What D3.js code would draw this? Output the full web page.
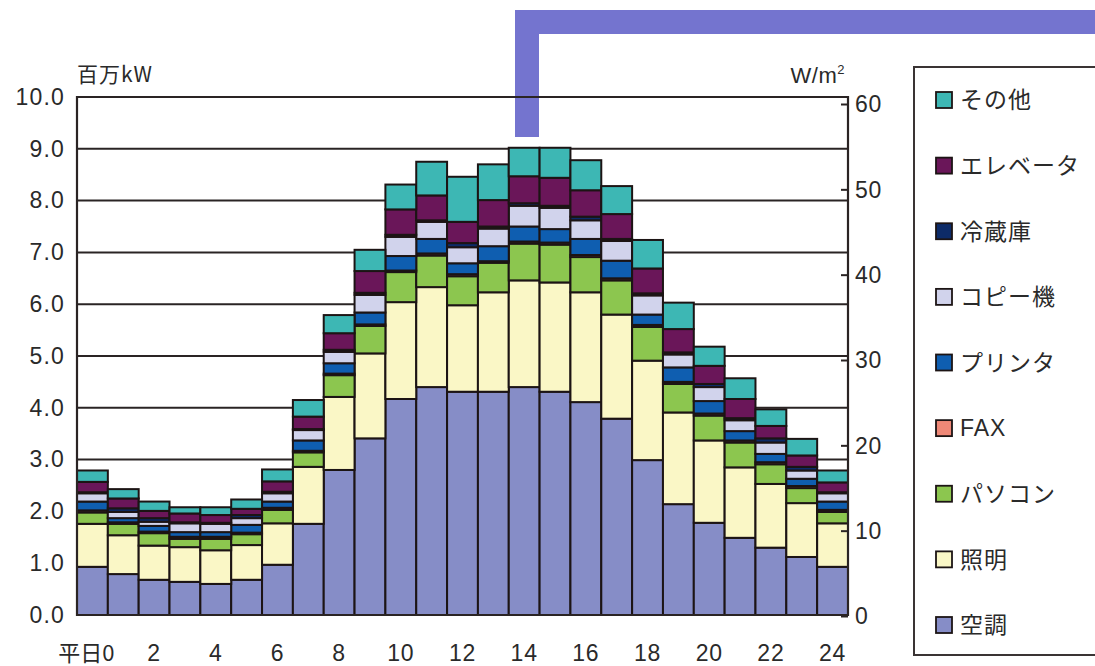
<!DOCTYPE html>
<html>
<head>
<meta charset="utf-8">
<script src="https://cdn.jsdelivr.net/npm/d3@7"></script>
<style>
  html, body { margin: 0; padding: 0; background: #ffffff; }
  svg { display: block; }
  text { fill: #2a2a2a; }
</style>
</head>
<body>
<svg id="chart" width="1095" height="666"></svg>
<script>
// Hours of a weekday (平日), 0:00 to 24:00
const hours = d3.range(0, 25);
const xTickHours = [0, 2, 4, 6, 8, 10, 12, 14, 16, 18, 20, 22, 24];
const leftTicks = d3.range(0, 11);          // 百万kW
const rightTicks = [0, 10, 20, 30, 40, 50, 60]; // W/m²

// Demand per end use, 百万kW, one value per hour
const aircon    = [0.93,0.79,0.68,0.64,0.60,0.68,0.97,1.76,2.80,3.41,4.17,4.40,4.31,4.31,4.40,4.31,4.11,3.79,2.99,2.14,1.78,1.49,1.30,1.12,0.93];
const lighting  = [0.83,0.75,0.66,0.67,0.65,0.67,0.80,1.10,1.41,1.64,1.87,1.93,1.67,1.92,2.06,2.11,2.12,2.01,1.92,1.77,1.59,1.36,1.23,1.04,0.84];
const pc        = [0.22,0.22,0.24,0.16,0.22,0.21,0.26,0.28,0.42,0.53,0.58,0.61,0.56,0.57,0.71,0.73,0.68,0.66,0.65,0.55,0.48,0.48,0.38,0.29,0.22];
const fax       = [0.04,0.03,0.03,0.04,0.04,0.03,0.04,0.03,0.03,0.03,0.03,0.04,0.04,0.03,0.04,0.04,0.04,0.04,0.04,0.04,0.04,0.04,0.04,0.04,0.04];
const printer   = [0.17,0.08,0.11,0.09,0.09,0.15,0.12,0.20,0.20,0.23,0.28,0.28,0.21,0.29,0.29,0.26,0.31,0.34,0.20,0.28,0.24,0.18,0.16,0.14,0.16];
const copier    = [0.16,0.12,0.08,0.17,0.16,0.13,0.16,0.20,0.22,0.34,0.37,0.33,0.31,0.34,0.40,0.41,0.36,0.38,0.37,0.25,0.27,0.21,0.22,0.16,0.16];
const fridge    = [0.02,0.07,0.07,0.02,0.02,0.06,0.03,0.02,0.04,0.04,0.04,0.03,0.08,0.04,0.05,0.04,0.07,0.04,0.04,0.04,0.06,0.04,0.08,0.07,0.02];
const elevator  = [0.20,0.19,0.14,0.17,0.15,0.12,0.20,0.24,0.32,0.42,0.49,0.48,0.41,0.51,0.52,0.54,0.51,0.48,0.48,0.45,0.35,0.37,0.24,0.22,0.19];
const other     = [0.22,0.18,0.18,0.12,0.15,0.18,0.23,0.32,0.35,0.41,0.48,0.65,0.87,0.69,0.55,0.58,0.58,0.54,0.55,0.51,0.37,0.40,0.32,0.32,0.23];

// Series, bottom of the stack first
const series = [
  { key: "空調",       values: aircon,   color: "#868dc7" },
  { key: "照明",       values: lighting, color: "#faf7c6" },
  { key: "パソコン",   values: pc,       color: "#8cc64f" },
  { key: "FAX",        values: fax,      color: "#ef8877" },
  { key: "プリンタ",   values: printer,  color: "#0f5eb0" },
  { key: "コピー機",   values: copier,   color: "#d1d3ec" },
  { key: "冷蔵庫",     values: fridge,   color: "#0d2b68" },
  { key: "エレベータ", values: elevator, color: "#6a1659" },
  { key: "その他",     values: other,    color: "#3db7b4" }
];

const rows = hours.map((h, i) => {
  const r = { hour: h };
  series.forEach(s => { r[s.key] = s.values[i]; });
  return r;
});

const svg = d3.select("#chart");
const plot = { left: 77, right: 848, top: 97, bottom: 615 };
const numFont = "'Liberation Sans', 'Noto Sans CJK JP', sans-serif";
const jpFont = "'Noto Sans CJK JP', sans-serif";

const x = d3.scaleBand().domain(hours).range([plot.left, plot.right]).paddingInner(0).paddingOuter(0);
const y = d3.scaleLinear().domain([0, 10]).range([plot.bottom, plot.top]);
const yRight = d3.scaleLinear().domain([0, 60]).range([plot.bottom + 1, plot.top + 7]);

// Decorative bracket line across the top
svg.append("path")
  .attr("d", `M527,137 V22 H1095`)
  .attr("fill", "none")
  .attr("stroke", "#7474cf")
  .attr("stroke-width", 24)
  .attr("stroke-linejoin", "miter");

// Horizontal grid
svg.append("g")
  .selectAll("line")
  .data(leftTicks)
  .join("line")
  .attr("x1", plot.left).attr("x2", plot.right)
  .attr("y1", d => y(d)).attr("y2", d => y(d))
  .attr("stroke", "#2a2424").attr("stroke-width", 2);

// Stacked bars
const stacked = d3.stack().keys(series.map(s => s.key))(rows);
const colorOf = new Map(series.map(s => [s.key, s.color]));

svg.append("g")
  .selectAll("g")
  .data(stacked)
  .join("g")
  .attr("fill", d => colorOf.get(d.key))
  .selectAll("rect")
  .data(d => d)
  .join("rect")
  .attr("x", d => x(d.data.hour))
  .attr("width", x.bandwidth())
  .attr("y", d => y(d[1]))
  .attr("height", d => y(d[0]) - y(d[1]))
  .attr("stroke", "#1c1414")
  .attr("stroke-width", 2);

// Frame: left, right and bottom axis lines
const frame = svg.append("g").attr("stroke", "#2a2424").attr("stroke-width", 2.2).attr("fill", "none");
frame.append("line").attr("x1", plot.left).attr("x2", plot.left).attr("y1", plot.top - 1).attr("y2", plot.bottom + 1);
frame.append("line").attr("x1", plot.right).attr("x2", plot.right).attr("y1", plot.top - 1).attr("y2", plot.bottom + 1);
frame.append("line").attr("x1", plot.left).attr("x2", plot.right).attr("y1", plot.bottom).attr("y2", plot.bottom);

// Left axis (百万kW)
const leftAxis = svg.append("g")
  .attr("transform", `translate(${plot.left},0)`)
  .call(d3.axisLeft(y).tickValues(leftTicks).tickFormat(d3.format(".1f")).tickSize(0).tickPadding(12));
leftAxis.select(".domain").remove();
leftAxis.selectAll("text")
  .attr("font-family", numFont).attr("font-size", 23).attr("fill", "#2a2a2a")
  .style("letter-spacing", "1.2px");

// Right axis (W/m²)
const rightAxis = svg.append("g")
  .attr("transform", `translate(${plot.right},0)`)
  .call(d3.axisLeft(yRight).tickValues(rightTicks).tickSize(7).tickFormat(""));
rightAxis.select(".domain").remove();
rightAxis.selectAll("line").attr("stroke", "#2a2424").attr("stroke-width", 2);
svg.append("g")
  .selectAll("text")
  .data(rightTicks)
  .join("text")
  .attr("x", plot.right + 7)
  .attr("y", d => yRight(d))
  .attr("dy", "0.36em")
  .attr("font-family", numFont).attr("font-size", 23)
  .style("letter-spacing", "0.8px")
  .text(d => d);

// Bottom labels
const xAxis = svg.append("g")
  .attr("transform", `translate(0,${plot.bottom})`)
  .call(d3.axisBottom(x).tickValues(xTickHours).tickSize(0).tickPadding(30)
    .tickFormat(d => d === 0 ? "平日0" : d));
xAxis.select(".domain").remove();
xAxis.selectAll("text")
  .attr("font-family", numFont).attr("font-size", 23).attr("fill", "#2a2a2a")
  .style("letter-spacing", "0.8px");
xAxis.selectAll(".tick")
  .filter(d => d === 0)
  .select("text")
  .attr("text-anchor", "end")
  .attr("x", 22)
  .attr("font-family", jpFont).attr("font-size", 22)
  .style("letter-spacing", "0px");

// Unit labels
svg.append("text")
  .attr("x", plot.left).attr("y", 82)
  .attr("font-family", jpFont).attr("font-size", 21)
  .style("letter-spacing", "1px")
  .text("百万kW");
const unitR = svg.append("text")
  .attr("x", 845).attr("y", 83).attr("text-anchor", "end")
  .attr("font-family", numFont).attr("font-size", 22)
  .style("letter-spacing", "0.5px");
unitR.append("tspan").text("W/m");
unitR.append("tspan").attr("font-size", 13).attr("dy", "-9").text("2");

// Legend, top entry is the top of the stack
const legend = svg.append("g");
legend.append("rect")
  .attr("x", 914).attr("y", 67).attr("width", 200).attr("height", 588)
  .attr("fill", "#ffffff").attr("stroke", "#3a3434").attr("stroke-width", 2);
const legendItems = series.slice().reverse();
const ly = d3.scalePoint().domain(legendItems.map(s => s.key)).range([100, 625]);
const item = legend.selectAll("g.item")
  .data(legendItems)
  .join("g")
  .attr("class", "item")
  .attr("transform", s => `translate(936,${ly(s.key)})`);
item.append("rect")
  .attr("x", 0).attr("y", -8).attr("width", 16).attr("height", 16)
  .attr("fill", s => s.color).attr("stroke", "#1c1414").attr("stroke-width", 1.8);
item.append("text")
  .attr("x", 24).attr("y", 0).attr("dy", "0.36em")
  .attr("font-family", s => s.key === "FAX" ? numFont : jpFont)
  .attr("font-size", 23)
  .attr("fill", "#3a3a3a")
  .style("letter-spacing", "1px")
  .text(s => s.key);
</script>
</body>
</html>
